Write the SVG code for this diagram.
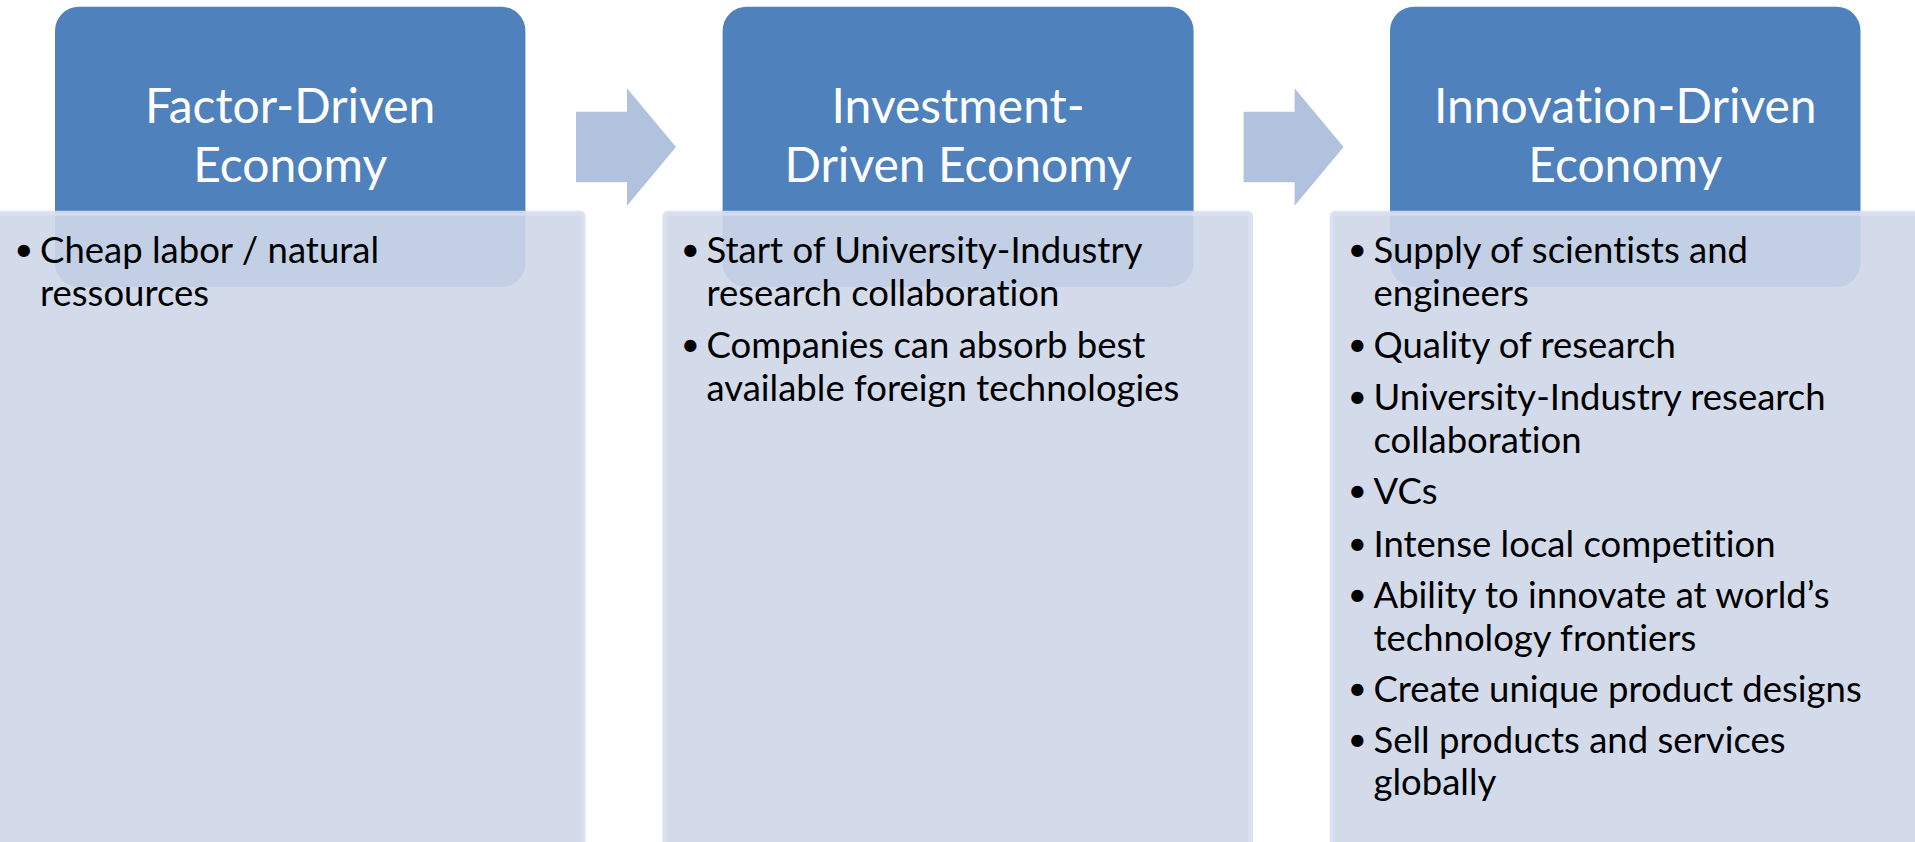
<svg xmlns="http://www.w3.org/2000/svg" width="1915" height="842" viewBox="0 0 1915 842">
<style>
text{font-variant-ligatures:none;font-feature-settings:"liga" 0,"clig" 0}
.hdr{fill:#4F81BD}
.body{fill:#CED7E9;fill-opacity:0.9;stroke:#D8DFEE;stroke-opacity:0.9;stroke-width:5}
.arrow{fill:#B1C2DE}
.ht{font-family:Lato,"Open Sans",sans-serif;font-size:48px;fill:#FFFFFF;text-anchor:middle}
.bt{font-family:Lato,"Open Sans",sans-serif;font-size:36.5px;fill:#000000}
.bl{font-family:Lato,"Open Sans",sans-serif;font-size:33px;fill:#000000}
</style>
<rect width="1915" height="842" fill="#FFFFFF"/>
<g id="connectors">
<polygon class="arrow" points="576,111.7 627,111.7 627,88.3 676,147 627,205.7 627,182.3 576,182.3"/>
<polygon class="arrow" points="1243.6,111.7 1294.6,111.7 1294.6,88.3 1343.6,147 1294.6,205.7 1294.6,182.3 1243.6,182.3"/>
</g>
<g id="node-factor">
<rect class="hdr" x="55" y="6.7" width="470.4" height="280.3" rx="24"/>
<text class="ht" x="290.2" y="123.3">Factor-Driven</text>
<text class="ht" x="290.2" y="181.7">Economy</text>
<rect class="body" x="-2.8" y="213.2" width="585.8" height="640" rx="3"/>
<text class="bl" x="14.2" y="261.3">•</text>
<text class="bt" x="40" y="263.3">Cheap labor / natural</text>
<text class="bt" x="40" y="306">ressources</text>
</g>
<g id="node-investment">
<rect class="hdr" x="722.6" y="6.7" width="471" height="280.3" rx="24"/>
<text class="ht" x="958.1" y="123.3">Investment-</text>
<text class="ht" x="958.1" y="181.7">Driven Economy</text>
<rect class="body" x="664.8" y="213.2" width="585.8" height="640" rx="3"/>
<text class="bl" x="680.7" y="261.3">•</text>
<text class="bt" x="706.5" y="263.3">Start of University-Industry</text>
<text class="bt" x="706.5" y="306">research collaboration</text>
<text class="bl" x="680.7" y="356.3">•</text>
<text class="bt" x="706.5" y="358.3">Companies can absorb best</text>
<text class="bt" x="706.5" y="401">available foreign technologies</text>
</g>
<g id="node-innovation">
<rect class="hdr" x="1390" y="6.7" width="470.5" height="280.3" rx="24"/>
<text class="ht" x="1625.3" y="123.3">Innovation-Driven</text>
<text class="ht" x="1625.3" y="181.7">Economy</text>
<rect class="body" x="1332.2" y="213.2" width="585.8" height="640" rx="3"/>
<text class="bl" x="1347.7" y="261.3">•</text>
<text class="bt" x="1373.5" y="263.3">Supply of scientists and</text>
<text class="bt" x="1373.5" y="306">engineers</text>
<text class="bl" x="1347.7" y="356.3">•</text>
<text class="bt" x="1373.5" y="358.3">Quality of research</text>
<text class="bl" x="1347.7" y="408">•</text>
<text class="bt" x="1373.5" y="410">University-Industry research</text>
<text class="bt" x="1373.5" y="452.7">collaboration</text>
<text class="bl" x="1347.7" y="502">•</text>
<text class="bt" x="1373.5" y="504">VCs</text>
<text class="bl" x="1347.7" y="554.7">•</text>
<text class="bt" x="1373.5" y="556.7">Intense local competition</text>
<text class="bl" x="1347.7" y="606.3">•</text>
<text class="bt" x="1373.5" y="608.3">Ability to innovate at world’s</text>
<text class="bt" x="1373.5" y="650.7">technology frontiers</text>
<text class="bl" x="1347.7" y="699.7">•</text>
<text class="bt" x="1373.5" y="701.7">Create unique product designs</text>
<text class="bl" x="1347.7" y="750.7">•</text>
<text class="bt" x="1373.5" y="752.7">Sell products and services</text>
<text class="bt" x="1373.5" y="795">globally</text>
</g>
</svg>
